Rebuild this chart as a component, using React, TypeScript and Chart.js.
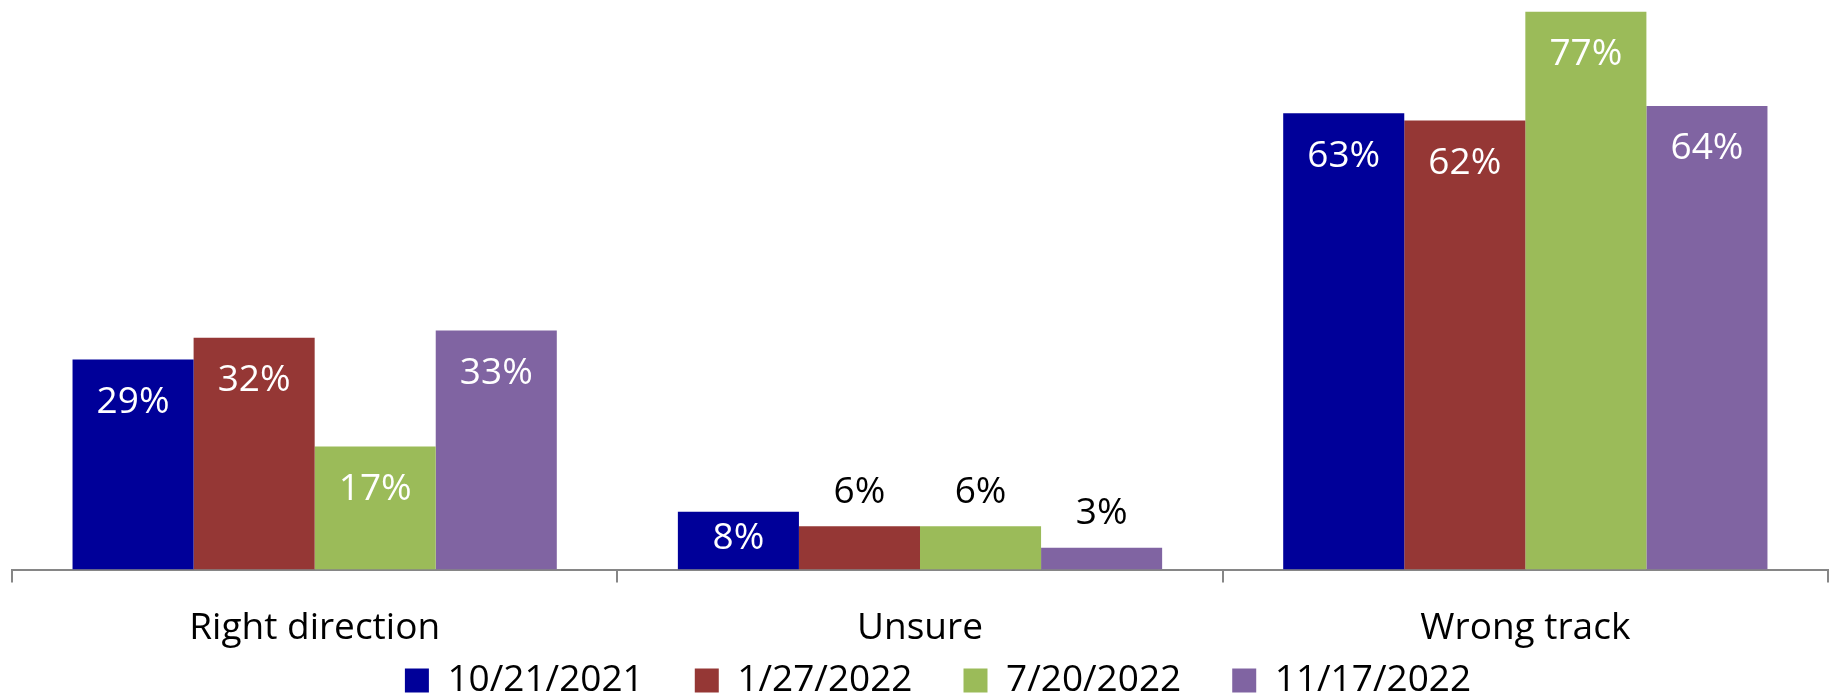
import { useEffect, useRef } from "react";
import { Chart, registerables } from "chart.js";

Chart.register(...registerables);

const categories = ["Right direction", "Unsure", "Wrong track"];
const seriesLabels = ["10/21/2021", "1/27/2022", "7/20/2022", "11/17/2022"];
const series1 = [29, 8, 63];
const series2 = [32, 6, 62];
const series3 = [17, 6, 77];
const series4 = [33, 3, 64];
const seriesColors = ["#000099", "#953735", "#9BBB59", "#8064A2"];

const FONT = "'Open Sans', 'Noto Sans', sans-serif";

const dataLabelPlugin = {
  id: "dataLabels",
  afterDatasetsDraw(chart: any) {
    const ctx = chart.ctx;
    ctx.save();
    ctx.font = `37px ${FONT}`;
    ctx.textAlign = "center";
    ctx.textBaseline = "middle";
    chart.data.datasets.forEach((ds: any, di: number) => {
      const meta = chart.getDatasetMeta(di);
      meta.data.forEach((bar: any, i: number) => {
        const v = ds.data[i];
        const h = bar.base - bar.y;
        const text = v + "%";
        if (v >= 8) {
          ctx.fillStyle = "#ffffff";
          ctx.fillText(text, bar.x, bar.y + Math.min(43, h / 2 - 2));
        } else {
          ctx.fillStyle = "#000000";
          ctx.fillText(text, bar.x, bar.y - 34);
        }
      });
    });
    ctx.restore();
  },
};

const legendShiftPlugin = {
  id: "legendShift",
  afterLayout(chart: any) {
    const lg = chart.legend;
    if (lg) {
      lg.left += 18;
      lg.right += 18;
      lg.top -= 64;
      lg.bottom -= 64;
    }
  },
};

export default function App() {
  const ref = useRef<HTMLCanvasElement | null>(null);
  useEffect(() => {
    if (!ref.current) return;
    const allSeries = [series1, series2, series3, series4];
    const chart = new Chart(ref.current, {
      type: "bar",
      data: {
        labels: categories,
        datasets: allSeries.map((d, i) => ({
          label: seriesLabels[i],
          data: d,
          backgroundColor: seriesColors[i],
          borderWidth: 0,
          categoryPercentage: 0.8,
          barPercentage: 1.0,
        })),
      },
      options: {
        animation: false,
        responsive: false,
        maintainAspectRatio: false,
        layout: { padding: { left: 12, right: 6, top: 3, bottom: -75 } },
        plugins: {
          tooltip: { enabled: false },
          legend: {
            position: "bottom",
            labels: {
              boxWidth: 24,
              boxHeight: 24,
              padding: 51,
              color: "#000000",
              font: { family: FONT, size: 37 },
            },
          },
        },
        scales: {
          x: {
            offset: true,
            grid: {
              offset: true,
              drawOnChartArea: false,
              drawTicks: true,
              tickLength: 13,
              color: "#868686",
              lineWidth: 2,
            },
            border: { display: true, color: "#868686", width: 2 },
            ticks: {
              color: "#000000",
              font: { family: FONT, size: 37 },
              padding: 24,
            },
          },
          y: {
            display: false,
            min: 0,
            max: 78.2,
          },
        },
      },
      plugins: [dataLabelPlugin, legendShiftPlugin],
    });
    return () => chart.destroy();
  }, []);
  return (
    <div style={{ position: "fixed", left: 0, top: 0, width: 1834, height: 698, background: "#ffffff" }}>
      <canvas ref={ref} width={1834} height={698} style={{ display: "block" }} />
    </div>
  );
}
